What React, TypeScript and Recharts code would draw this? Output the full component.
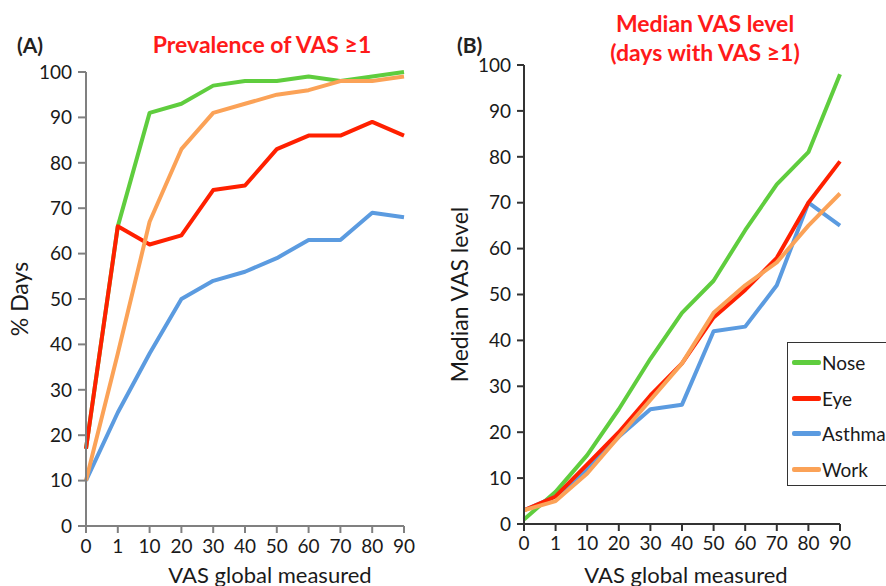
import React from 'react';
import { LineChart, Line, XAxis, YAxis, Legend } from 'recharts';

const categories = ['0', '1', '10', '20', '30', '40', '50', '60', '70', '80', '90'];
const yTicks = [0, 10, 20, 30, 40, 50, 60, 70, 80, 90, 100];

// Panel A: Prevalence of VAS >= 1 (% days)
const prevNose = [17, 66, 91, 93, 97, 98, 98, 99, 98, 99, 100];
const prevEye = [17, 66, 62, 64, 74, 75, 83, 86, 86, 89, 86];
const prevAsthma = [10, 25, 38, 50, 54, 56, 59, 63, 63, 69, 68];
const prevWork = [10, 38, 67, 83, 91, 93, 95, 96, 98, 98, 99];

// Panel B: Median VAS level (days with VAS >= 1)
const medNose = [1, 7, 15, 25, 36, 46, 53, 64, 74, 81, 98];
const medEye = [3, 6, 13, 20, 28, 35, 45, 51, 58, 70, 79];
const medAsthma = [3, 6, 12, 19, 25, 26, 42, 43, 52, 70, 65];
const medWork = [3, 5, 11, 19, 27, 35, 46, 52, 57, 65, 72];

const seriesNames = ['Nose', 'Eye', 'Asthma', 'Work'];
const COLORS: Record<string, string> = {
  Nose: '#5fcd3e',
  Eye: '#ff2000',
  Asthma: '#5b9be0',
  Work: '#fba257',
};

const dataA = categories.map((c, i) => ({
  cat: c,
  Nose: prevNose[i],
  Eye: prevEye[i],
  Asthma: prevAsthma[i],
  Work: prevWork[i],
}));
const dataB = categories.map((c, i) => ({
  cat: c,
  Nose: medNose[i],
  Eye: medEye[i],
  Asthma: medAsthma[i],
  Work: medWork[i],
}));

const FONT = 'Lato, "Open Sans", sans-serif';
const tickStyle = { fill: '#1a1a1a', fontSize: 19, fontFamily: FONT };
const drawOrder = ['Nose', 'Asthma', 'Eye', 'Work'];

const LegendBox = () => (
  <div
    style={{
      boxSizing: 'border-box',
      border: '1.5px solid #333',
      background: '#fff',
      padding: '2px 0 0 4px',
      width: 130,
      height: 144,
      fontFamily: FONT,
      fontSize: 19,
      color: '#1a1a1a',
    }}
  >
    {seriesNames.map((n) => (
      <div key={n} style={{ display: 'flex', alignItems: 'center', height: 35.5 }}>
        <div style={{ width: 29, height: 5, background: COLORS[n], marginRight: 1, borderRadius: 2 }} />
        <span>{n}</span>
      </div>
    ))}
  </div>
);

export default function App() {
  return (
    <div
      style={{
        position: 'absolute',
        left: 0,
        top: 0,
        width: 886,
        height: 586,
        overflow: 'hidden',
        background: '#fff',
        fontFamily: FONT,
      }}
    >
      {/* Panel A */}
      <div style={{ position: 'absolute', left: 0, top: 0 }}>
        <LineChart
          width={443}
          height={586}
          data={dataA}
          margin={{ top: 72, right: 39, left: 0, bottom: 0 }}
        >
          <XAxis
            dataKey="cat"
            height={60}
            stroke="#808080"
            strokeWidth={2}
            tickSize={7}
            tickMargin={7}
            tick={tickStyle}
            interval={0}
            label={{
              value: 'VAS global measured',
              position: 'insideBottom',
              offset: 3,
              dx: 25,
              style: { fill: '#1a1a1a', fontSize: 22, fontFamily: FONT },
            }}
          />
          <YAxis
            width={86}
            domain={[0, 100]}
            ticks={yTicks}
            interval={0}
            stroke="#808080"
            strokeWidth={2}
            tickSize={8}
            tickMargin={6}
            tick={tickStyle}
            label={{
              value: '% Days',
              angle: -90,
              position: 'insideLeft',
              offset: 20,
              textAnchor: 'middle',
              style: { fill: '#1a1a1a', fontSize: 23, fontFamily: FONT },
            }}
          />
          {drawOrder.map((n) => (
            <Line
              key={n}
              type="linear"
              dataKey={n}
              stroke={COLORS[n]}
              strokeWidth={4}
              dot={false}
              isAnimationActive={false}
              strokeLinejoin="round"
            />
          ))}
        </LineChart>
      </div>

      {/* Panel B */}
      <div style={{ position: 'absolute', left: 443, top: 0 }}>
        <LineChart
          width={443}
          height={586}
          data={dataB}
          margin={{ top: 65, right: 46, left: 0, bottom: 0 }}
        >
          <XAxis
            dataKey="cat"
            height={62}
            stroke="#333"
            strokeWidth={2}
            tickSize={7}
            tickMargin={6}
            tick={tickStyle}
            interval={0}
            label={{
              value: 'VAS global measured',
              position: 'insideBottom',
              offset: 3,
              dx: 4,
              style: { fill: '#1a1a1a', fontSize: 22, fontFamily: FONT },
            }}
          />
          <YAxis
            width={81}
            domain={[0, 100]}
            ticks={yTicks}
            interval={0}
            stroke="#333"
            strokeWidth={2}
            tickSize={7}
            tickMargin={6}
            tick={tickStyle}
            label={{
              value: 'Median VAS level',
              angle: -90,
              position: 'insideLeft',
              offset: 17,
              textAnchor: 'middle',
              style: { fill: '#1a1a1a', fontSize: 23, fontFamily: FONT },
            }}
          />
          {drawOrder.map((n) => (
            <Line
              key={n}
              type="linear"
              dataKey={n}
              stroke={COLORS[n]}
              strokeWidth={4}
              dot={false}
              isAnimationActive={false}
              strokeLinejoin="round"
            />
          ))}
          <Legend
            layout="horizontal"
            verticalAlign="middle"
            align="center"
            content={() => <LegendBox />}
            wrapperStyle={{ position: 'absolute', left: 344, top: 342, width: 130, height: 144 }}
          />
        </LineChart>
      </div>

      {/* Titles */}
      <div style={{ position: 'absolute', left: 17, top: 32, fontSize: 21, fontWeight: 700, color: '#222' }}>(A)</div>
      <div
        style={{
          position: 'absolute',
          left: 112,
          width: 300,
          top: 30,
          textAlign: 'center',
          fontSize: 23,
          fontWeight: 700,
          color: '#ff1a1a',
        }}
      >
        Prevalence of VAS ≥1
      </div>
      <div style={{ position: 'absolute', left: 457, top: 32, fontSize: 21, fontWeight: 700, color: '#222' }}>(B)</div>
      <div
        style={{
          position: 'absolute',
          left: 555,
          width: 300,
          top: 9,
          textAlign: 'center',
          fontSize: 23,
          fontWeight: 700,
          lineHeight: '29px',
          color: '#ff1a1a',
        }}
      >
        Median VAS level
        <br />
        (days with VAS ≥1)
      </div>
    </div>
  );
}
